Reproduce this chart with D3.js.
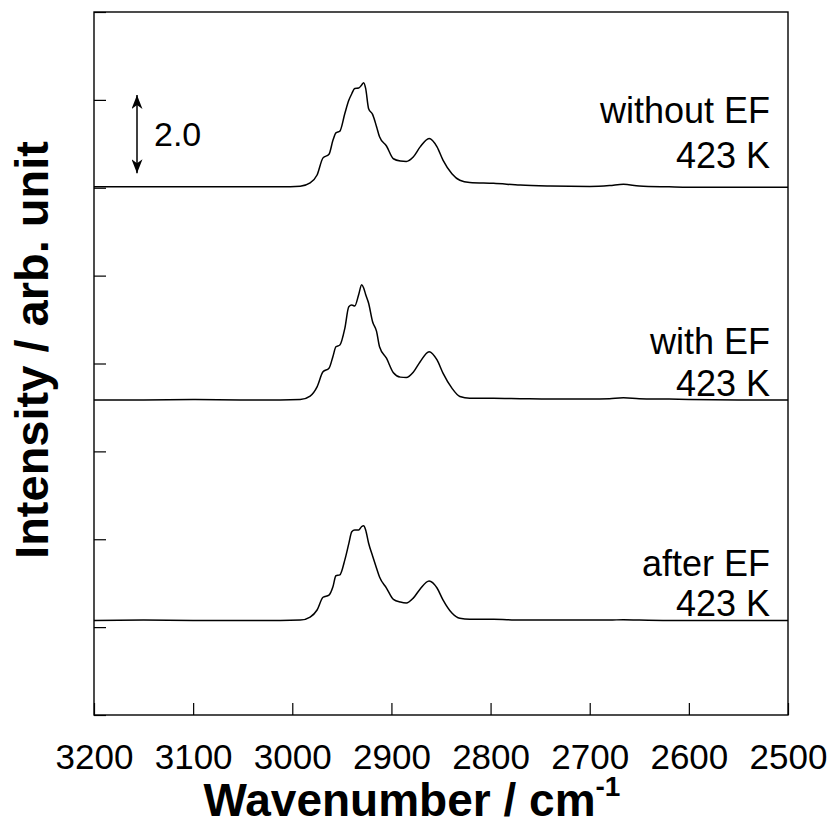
<!DOCTYPE html>
<html>
<head>
<meta charset="utf-8">
<script src="https://cdn.jsdelivr.net/npm/d3@7"></script>
<style>
	body { margin: 0; background: #fff; }
	text { font-family: "Liberation Sans", Arial, sans-serif; }
</style>
</head>
<body>
<div id="chart"></div>
<script>
// wavenumber grid (cm-1) shared by the three spectra
const wavenumbers = [3200, 3150, 3100, 3050, 3012, 2992, 2982, 2975, 2969, 2963, 2959, 2956, 2952, 2947, 2943, 2940, 2937, 2933, 2930, 2928, 2926, 2923, 2919, 2915, 2912, 2905, 2898, 2891, 2885, 2878, 2871, 2862, 2854, 2848, 2839, 2831, 2821, 2797, 2770, 2740, 2700, 2680, 2666, 2650, 2620, 2600, 2550, 2500];

const withoutEF = [0, 0, 0, 0, 0, 0.015, 0.09, 0.27, 0.66, 0.74, 1.06, 1.23, 1.27, 1.67, 1.97, 2.12, 2.24, 2.25, 2.32, 2.37, 2.24, 1.78, 1.65, 1.37, 1.14, 0.93, 0.64, 0.59, 0.58, 0.68, 0.91, 1.10, 0.91, 0.61, 0.30, 0.15, 0.10, 0.08, 0.04, 0.02, 0.01, 0.03, 0.06, 0.02, 0, -0.01, -0.01, -0.01];
const withEF = [0, 0, 0.01, 0, 0, 0.01, 0.09, 0.30, 0.64, 0.72, 0.99, 1.21, 1.25, 1.63, 2.12, 2.16, 2.14, 2.40, 2.62, 2.55, 2.40, 2.20, 1.78, 1.56, 1.21, 0.95, 0.62, 0.52, 0.51, 0.63, 0.87, 1.10, 0.91, 0.61, 0.27, 0.08, 0.04, 0.04, 0.03, 0.02, 0.02, 0.03, 0.05, 0.03, 0.02, 0.01, 0, 0];
const afterEF = [0, 0.01, 0, 0, 0, 0.01, 0.08, 0.24, 0.53, 0.58, 0.77, 1.02, 1.04, 1.38, 1.75, 2.02, 2.06, 2.06, 2.14, 2.16, 2.06, 1.76, 1.47, 1.19, 0.99, 0.74, 0.48, 0.42, 0.40, 0.51, 0.72, 0.90, 0.74, 0.47, 0.17, 0.05, 0.03, 0.03, 0.01, 0.01, 0.01, 0.01, 0.02, 0.01, 0, 0, 0, 0];

const seriesNames = ["without EF", "with EF", "after EF"];
const seriesOffsets = [12.02, 7.17, 2.15];
const seriesTemps = ["423 K", "423 K", "423 K"];

const xTicks = [3200, 3100, 3000, 2900, 2800, 2700, 2600, 2500];
const yTicks = [0, 2, 4, 6, 8, 10, 12, 14, 16];
const scaleBar = [12.33, 14.11]; // arrow ends, labelled 2.0

const width = 834, height = 828;
const margin = { top: 12, right: 46, bottom: 113, left: 94 };

const svg = d3.select("#chart").append("svg").attr("width", width).attr("height", height);

const x = d3.scaleLinear().domain([3200, 2500]).range([margin.left, width - margin.right]);
const y = d3.scaleLinear().domain([0, 16]).range([height - margin.bottom, margin.top]);

// axes with inward ticks
const xAxis = svg.append("g")
	.attr("transform", `translate(0, ${height - margin.bottom})`)
	.call(d3.axisBottom(x).tickValues(xTicks).tickFormat(d3.format("d")).tickSizeInner(-12).tickSizeOuter(0).tickPadding(29));
xAxis.selectAll("text").style("font-size", "35px").attr("fill", "#000");
xAxis.selectAll("line").attr("stroke", "#000").attr("stroke-width", 1.2);
xAxis.select(".domain").remove();

const yAxis = svg.append("g")
	.attr("transform", `translate(${margin.left}, 0)`)
	.call(d3.axisLeft(y).tickValues(yTicks).tickFormat("").tickSizeInner(-12).tickSizeOuter(0));
yAxis.selectAll("line").attr("stroke", "#000").attr("stroke-width", 1.2);
yAxis.select(".domain").remove();

// frame
svg.append("rect")
	.attr("x", x(3200)).attr("y", y(16))
	.attr("width", x(2500) - x(3200)).attr("height", y(0) - y(16))
	.attr("fill", "none").attr("stroke", "#000").attr("stroke-width", 1.4);

// spectra
const line = d3.line()
	.x((d) => x(d[0]))
	.y((d) => y(d[1]))
	.curve(d3.curveMonotoneX);

[withoutEF, withEF, afterEF].forEach((vals, i) => {
	const pts = wavenumbers.map((w, j) => [w, vals[j] + seriesOffsets[i]]);
	svg.append("path")
		.datum(pts)
		.attr("d", line)
		.attr("fill", "none")
		.attr("stroke", "#000")
		.attr("stroke-width", 1.5);
});

// labels on the right
const labelX = 770;
const labelDy = [[-64, -19], [-46, -4], [-45, -5]];
seriesNames.forEach((name, i) => {
	const base = y(seriesOffsets[i]);
	svg.append("text").attr("x", labelX).attr("y", base + labelDy[i][0])
		.attr("text-anchor", "end").style("font-size", "36px").text(name);
	svg.append("text").attr("x", labelX).attr("y", base + labelDy[i][1])
		.attr("text-anchor", "end").style("font-size", "36px").text(seriesTemps[i]);
});

// scale bar arrow
const defs = svg.append("defs");
defs.append("marker")
	.attr("id", "head")
	.attr("viewBox", "0 0 14 11")
	.attr("refX", 14).attr("refY", 5.5)
	.attr("markerWidth", 14).attr("markerHeight", 11)
	.attr("markerUnits", "userSpaceOnUse")
	.attr("orient", "auto-start-reverse")
	.append("path")
	.attr("d", "M0,0 L14,5.5 L0,11 L4,5.5 Z")
	.attr("fill", "#000");
svg.append("line")
	.attr("x1", 137).attr("x2", 137)
	.attr("y1", y(scaleBar[0])).attr("y2", y(scaleBar[1]))
	.attr("stroke", "#000").attr("stroke-width", 1.5)
	.attr("marker-start", "url(#head)").attr("marker-end", "url(#head)");
svg.append("text").attr("x", 154).attr("y", 146).style("font-size", "34px").text("2.0");

// axis titles
const xt = svg.append("text")
	.attr("x", 412).attr("y", 816)
	.attr("text-anchor", "middle")
	.style("font-size", "46px").style("font-weight", "bold");
xt.append("tspan").text("Wavenumber / cm");
xt.append("tspan").attr("dy", -20).style("font-size", "28px").text("-1");

svg.append("text")
	.attr("transform", "translate(48, 350) rotate(-90)")
	.attr("text-anchor", "middle")
	.style("font-size", "47px").style("font-weight", "bold")
	.text("Intensity / arb. unit");
</script>
</body>
</html>
